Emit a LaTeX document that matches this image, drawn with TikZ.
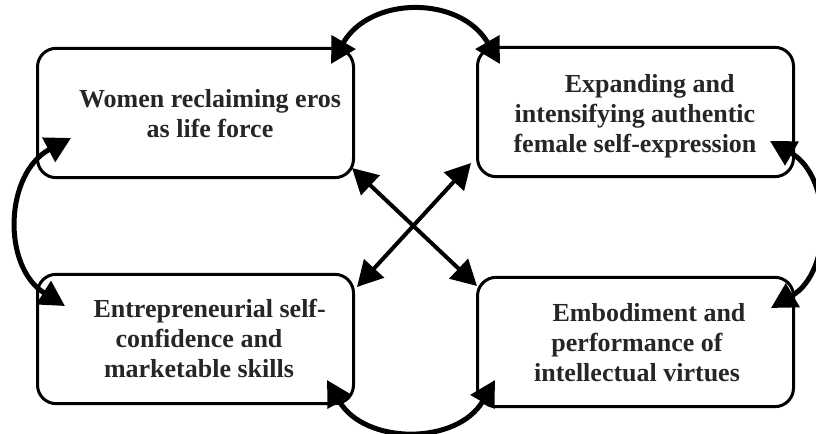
\documentclass[tikz,border=0pt]{standalone}
\usepackage{fontspec}
\setmainfont{Liberation Serif}
\usetikzlibrary{arrows.meta}
\tikzset{>={Triangle[length = 19pt, width = 20pt]}}
\tikzset{
factor/.style = {draw, line width = 2.25pt, rounded corners = 14pt, minimum width = 237pt, minimum height = 97pt},
factortext/.style = {font = \bfseries\fontsize{19.5}{22.5}\selectfont, align = center, text = black!85},
loop/.style = {<->, line width = 3.75pt},
cross/.style = {<->, line width = 3pt}
}

\begin{document}
\begin{tikzpicture}[x = 0.75pt, y = -0.75pt]
            \useasboundingbox (0,0) rectangle (816,434);

            \node[factor] (eros) at (195.5,113) {};
            \node[factor] (self) at (635.5,112) {};
            \node[factor] (skills) at (195.5,339) {};
            \node[factor] (virtue) at (635.5,342) {};

            \node[factortext] (erosText) at (210,114) {Women reclaiming eros\\as life force};
            \node[factortext] (selfText) at (635,116) {\hspace*{22pt}Expanding and\\intensifying authentic\\female self-expression};
            \node[factortext] (skillsText) at (199,338) {\hspace*{16pt}Entrepreneurial self-\\confidence and\\marketable skills};
            \node[factortext] (virtueText) at (637,343) {\hspace*{18pt}Embodiment and\\performance of\\intellectual virtues};

            \coordinate (erosTop) at (331,64);
            \coordinate (selfTop) at (500,64);
            \coordinate (erosLeft) at (71,138);
            \coordinate (skillsLeft) at (65,306);
            \coordinate (selfRight) at (770,141);
            \coordinate (virtueRight) at (771,308);
            \coordinate (skillsBottom) at (327,380);
            \coordinate (virtueBottom) at (495,380);
            \coordinate (erosCorner) at (352,168);
            \coordinate (virtueCorner) at (477,286);
            \coordinate (selfCorner) at (471,163);
            \coordinate (skillsCorner) at (357,287);

            \draw[loop] (erosTop) to[bend left = 60, looseness = 1.2] (selfTop);
            \draw[loop] (erosLeft) to[bend right = 60, looseness = 1.14] (skillsLeft);
            \draw[loop] (selfRight) to[bend left = 60, looseness = 1.1] (virtueRight);
            \draw[loop] (skillsBottom) to[bend right = 60, looseness = 1.15] (virtueBottom);
            \draw[cross] (erosCorner) -- (virtueCorner);
            \draw[cross] (selfCorner) -- (skillsCorner);
    \end{tikzpicture}
\end{document}
